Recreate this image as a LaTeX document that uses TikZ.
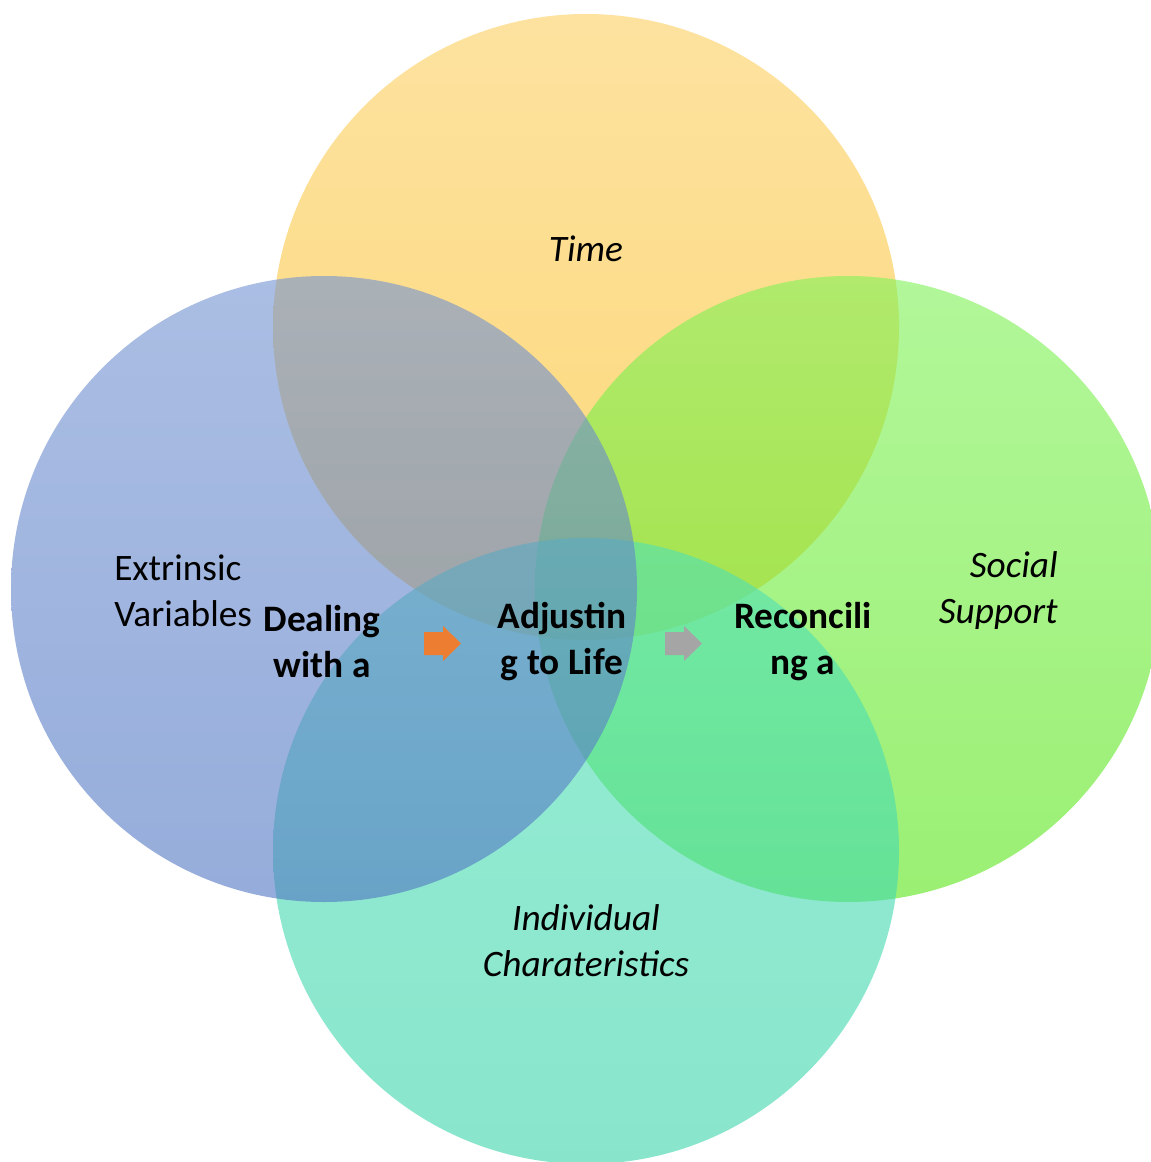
\documentclass[tikz,border=0pt]{standalone}
\usepackage{fontspec}
\setmainfont{Carlito}
\definecolor{ytop}{RGB}{253,208,97}
\definecolor{ybot}{RGB}{252,190,30}
\definecolor{btop}{RGB}{115,147,210}
\definecolor{bbot}{RGB}{80,118,195}
\definecolor{gtop}{RGB}{127,242,87}
\definecolor{gbot}{RGB}{88,230,22}
\definecolor{ttop}{RGB}{80,225,183}
\definecolor{tbot}{RGB}{58,213,170}
\definecolor{arrorange}{RGB}{237,125,49}
\definecolor{arrgray}{RGB}{165,165,165}
\begin{document}
\begin{tikzpicture}[x=0.75pt,y=-0.75pt,
  vtxt/.style={font=\fontsize{28}{34.5}\selectfont, text=black, inner sep=0pt, align=center},
  vbold/.style={vtxt, font=\fontsize{28}{34.5}\selectfont\bfseries},
  vital/.style={vtxt, font=\fontsize{28}{34.5}\selectfont\itshape},
  circ/.style={fill opacity=0.6}]
\useasboundingbox (0,0) rectangle (1151,1162);
\clip (0,0) rectangle (1151,1162);
\fill[white] (0,0) rectangle (1151,1162);
% circles
\shade[circ, top color=ytop, bottom color=ybot] (586,327) circle[radius=234.75pt];
\shade[circ, top color=gtop, bottom color=gbot] (848,589) circle[radius=234.75pt];
\shade[circ, top color=ttop, bottom color=tbot] (586,851) circle[radius=234.75pt];
\shade[circ, top color=btop, bottom color=bbot] (324,589) circle[radius=234.75pt];
% labels
\node[vital] (time) at (586,249) {Time};
\node[vtxt, align=left, anchor=west] (ext) at (114,591) {Extrinsic\\Variables};
\node[vital, align=right, anchor=east] (soc) at (1058,591) {Social\\Support};
\node[vital] (ind) at (586,941) {Individual\\Charateristics};
\node[vbold] (deal) at (322,642) {Dealing\\with a};
\node[vbold] (adj) at (562,642) {Adjustin\\g to Life};
\node[vbold] (rec) at (803,642) {Reconcili\\ng a};
% block arrows
\fill[arrorange] (424,632) -- (443,632) -- (443,626) -- (461,643.5) -- (443,661) -- (443,655) -- (424,655) -- cycle;
\fill[arrgray] (665,632) -- (684,632) -- (684,626) -- (702,643.5) -- (684,661) -- (684,655) -- (665,655) -- cycle;
\end{tikzpicture}
\end{document}
